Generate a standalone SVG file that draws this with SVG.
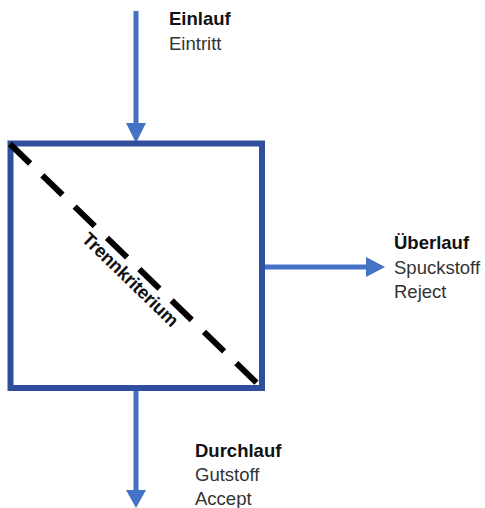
<svg xmlns="http://www.w3.org/2000/svg" width="485" height="508" viewBox="0 0 485 508">
<style>
.flow{stroke:#4472C4;stroke-width:5;fill:none}
.head{fill:#4472C4}
.b{font-family:"Liberation Sans",Arial,sans-serif;font-size:18.5px;font-weight:bold;fill:#111}
.r{font-family:"Liberation Sans",Arial,sans-serif;font-size:18.5px;fill:#333}
</style>
<rect width="485" height="508" fill="#fff"/>
<g id="connectors">
<line class="flow" x1="136" y1="11" x2="136" y2="126"/>
<polygon class="head" points="126,123 146,123 136,143"/>
<line class="flow" x1="262" y1="267" x2="369" y2="267"/>
<polygon class="head" points="366,257 366,277 385,267"/>
<line class="flow" x1="136" y1="389" x2="136" y2="493"/>
<polygon class="head" points="126,490 146,490 136,508"/>
</g>
<g id="separator">
<rect x="10.5" y="143.5" width="251.5" height="244.5" fill="none" stroke="#2F4F9E" stroke-width="6"/>
<line x1="10" y1="144" x2="262" y2="388" stroke="#000" stroke-width="6" stroke-dasharray="28 17"/>
<text class="b" x="0" y="0" text-anchor="middle" font-size="17" textLength="126" transform="translate(126,284) rotate(44.1)">Trennkriterium</text>
</g>
<g id="einlauf">
<text class="b" x="169" y="25">Einlauf</text>
<text class="r" x="169" y="50">Eintritt</text>
</g>
<g id="ueberlauf">
<text class="b" x="394" y="249">Überlauf</text>
<text class="r" x="394" y="274">Spuckstoff</text>
<text class="r" x="394" y="298">Reject</text>
</g>
<g id="durchlauf">
<text class="b" x="195" y="457">Durchlauf</text>
<text class="r" x="195" y="481">Gutstoff</text>
<text class="r" x="195" y="505">Accept</text>
</g>
</svg>
